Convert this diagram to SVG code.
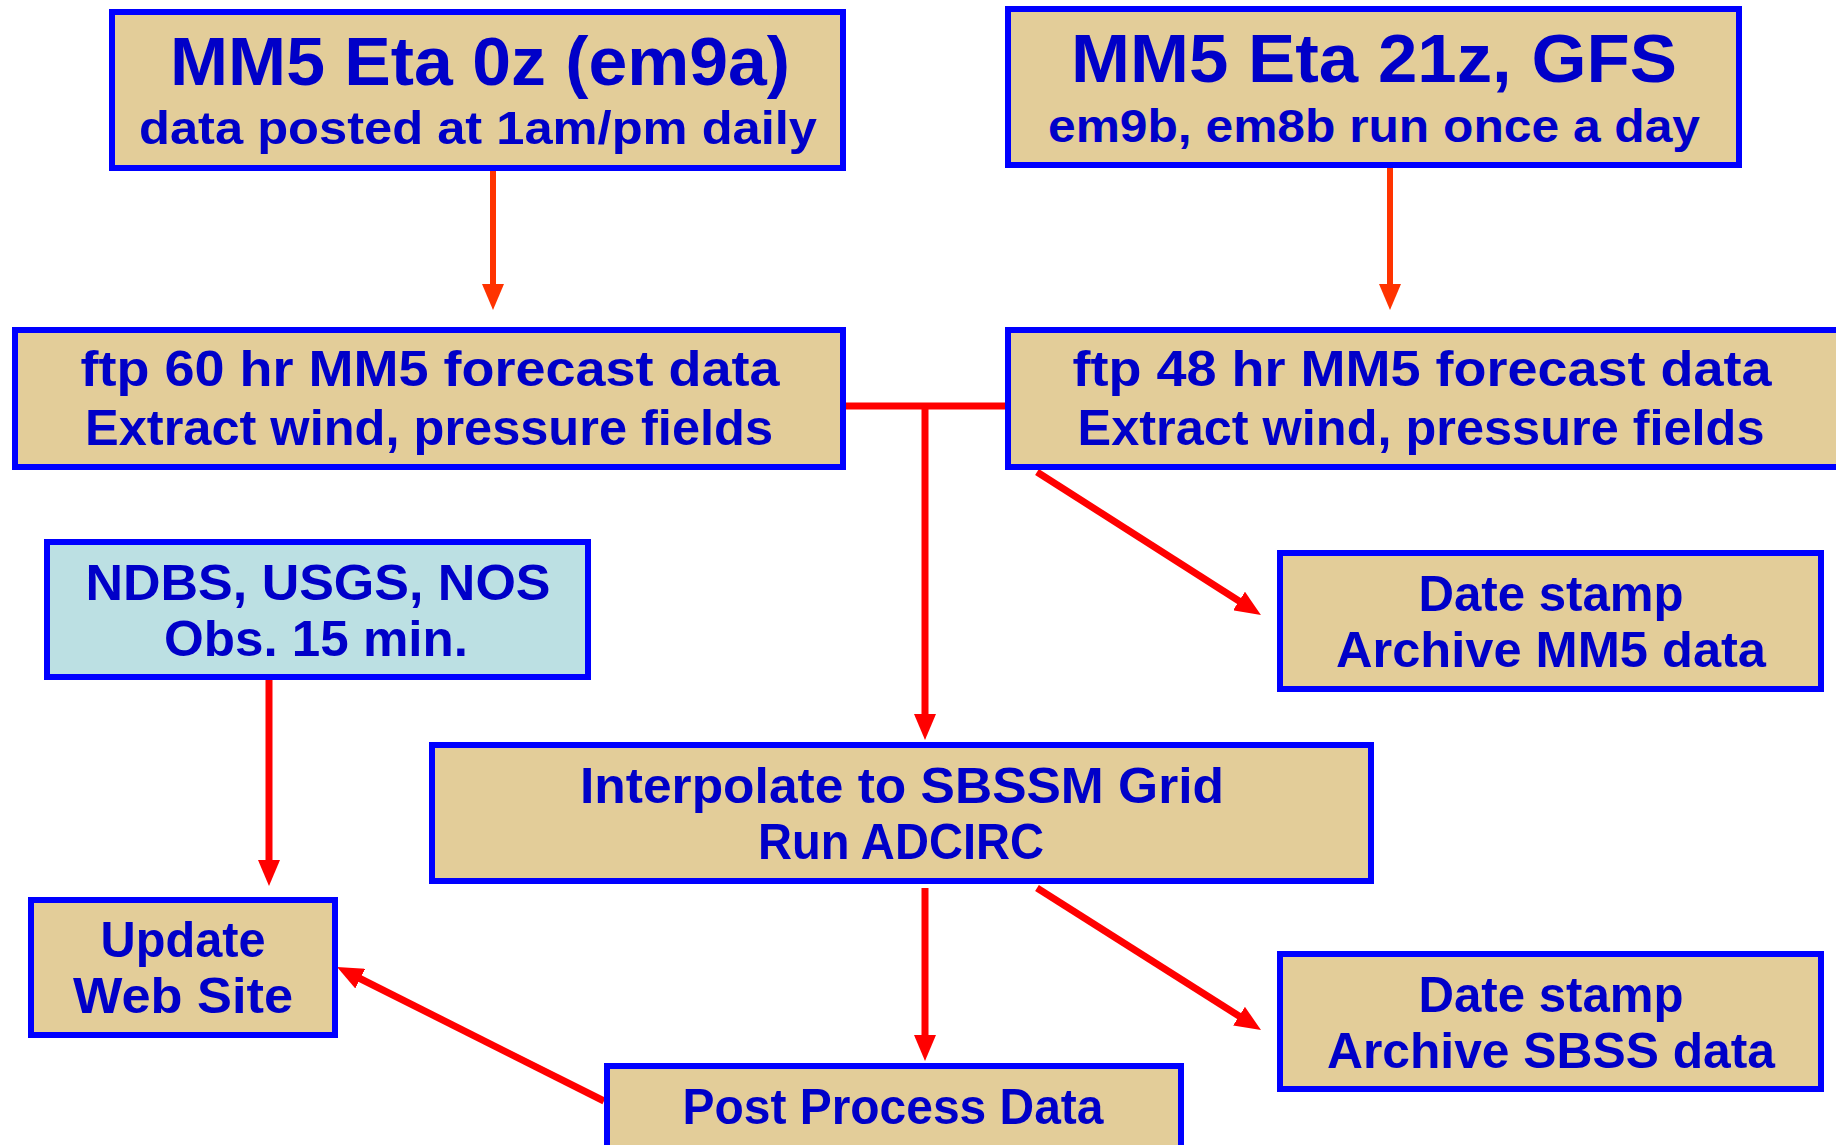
<svg xmlns="http://www.w3.org/2000/svg" width="1836" height="1145" viewBox="0 0 1836 1145">
<defs>
<style>
.box{fill:#E3CD99;stroke:#0000FF;stroke-width:6}
.obs{fill:#BCE0E3;stroke:#0000FF;stroke-width:6}
text{font-family:"Comic Sans MS","Liberation Sans",sans-serif;font-weight:bold;fill:#0000C8;text-anchor:middle}
.big{font-size:68px}
.mid{font-size:46px}
.t{font-size:50px}
.c1{stroke:#FF3300;stroke-width:6;fill:none}
.c2{stroke:#FF0000;stroke-width:7;fill:none}
</style>
<marker id="a1" markerUnits="userSpaceOnUse" markerWidth="26" markerHeight="22" refX="6" refY="11" orient="auto"><path d="M0,0 L26,11 L0,22 z" fill="#FF3300"/></marker>
<marker id="a2" markerUnits="userSpaceOnUse" markerWidth="26" markerHeight="22" refX="6" refY="11" orient="auto"><path d="M0,0 L26,11 L0,22 z" fill="#FF0000"/></marker>
</defs>
<rect width="1836" height="1145" fill="#FFFFFF"/>
<g id="connectors">
<line class="c1" x1="493" y1="170" x2="493" y2="290" marker-end="url(#a1)"/>
<line class="c1" x1="1390" y1="166" x2="1390" y2="290" marker-end="url(#a1)"/>
<line class="c2" x1="845" y1="406" x2="1005" y2="406"/>
<line class="c2" x1="925" y1="406" x2="925" y2="720" marker-end="url(#a2)"/>
<line class="c2" x1="1037" y1="472" x2="1244.1" y2="604.2" marker-end="url(#a2)"/>
<line class="c2" x1="269" y1="679" x2="269" y2="866" marker-end="url(#a2)"/>
<line class="c2" x1="925" y1="888" x2="925" y2="1041" marker-end="url(#a2)"/>
<line class="c2" x1="1037" y1="888" x2="1244.1" y2="1019.3" marker-end="url(#a2)"/>
<line class="c2" x1="604" y1="1101" x2="354.9" y2="976" marker-end="url(#a2)"/>
</g>
<g id="mm5-0z">
<rect class="box" x="112" y="12" width="731" height="156"/>
<text class="big" x="480" y="85" textLength="620" lengthAdjust="spacingAndGlyphs">MM5 Eta 0z (em9a)</text>
<text class="mid" x="478" y="144" textLength="678" lengthAdjust="spacingAndGlyphs">data posted at 1am/pm daily</text>
</g>
<g id="mm5-21z">
<rect class="box" x="1008" y="9" width="731" height="156"/>
<text class="big" x="1374" y="82" textLength="606" lengthAdjust="spacingAndGlyphs">MM5 Eta 21z, GFS</text>
<text class="mid" x="1374" y="142" textLength="652" lengthAdjust="spacingAndGlyphs">em9b, em8b run once a day</text>
</g>
<g id="ftp60">
<rect class="box" x="15" y="330" width="828" height="137"/>
<text class="t" x="430" y="386" textLength="699" lengthAdjust="spacingAndGlyphs">ftp 60 hr MM5 forecast data</text>
<text class="t" x="429" y="445" textLength="688" lengthAdjust="spacingAndGlyphs">Extract wind, pressure fields</text>
</g>
<g id="ftp48">
<rect class="box" x="1008" y="330" width="840" height="137"/>
<text class="t" x="1422" y="386" textLength="699" lengthAdjust="spacingAndGlyphs">ftp 48 hr MM5 forecast data</text>
<text class="t" x="1421" y="445" textLength="687" lengthAdjust="spacingAndGlyphs">Extract wind, pressure fields</text>
</g>
<g id="obs">
<rect class="obs" x="47" y="542" width="541" height="135"/>
<text class="t" x="318" y="600" textLength="465" lengthAdjust="spacingAndGlyphs">NDBS, USGS, NOS</text>
<text class="t" x="316" y="656" textLength="304" lengthAdjust="spacingAndGlyphs">Obs. 15 min.</text>
</g>
<g id="archive-mm5">
<rect class="box" x="1280" y="553" width="541" height="136"/>
<text class="t" x="1551" y="611" textLength="265" lengthAdjust="spacingAndGlyphs">Date stamp</text>
<text class="t" x="1551" y="667" textLength="430" lengthAdjust="spacingAndGlyphs">Archive MM5 data</text>
</g>
<g id="interpolate">
<rect class="box" x="432" y="745" width="939" height="136"/>
<text class="t" x="902" y="803" textLength="644" lengthAdjust="spacingAndGlyphs">Interpolate to SBSSM Grid</text>
<text class="t" x="901" y="859" textLength="286" lengthAdjust="spacingAndGlyphs">Run ADCIRC</text>
</g>
<g id="update">
<rect class="box" x="31" y="900" width="304" height="135"/>
<text class="t" x="183" y="957" textLength="165" lengthAdjust="spacingAndGlyphs">Update</text>
<text class="t" x="183" y="1013" textLength="220" lengthAdjust="spacingAndGlyphs">Web Site</text>
</g>
<g id="archive-sbss">
<rect class="box" x="1280" y="954" width="541" height="135"/>
<text class="t" x="1551" y="1012" textLength="265" lengthAdjust="spacingAndGlyphs">Date stamp</text>
<text class="t" x="1551" y="1068" textLength="448" lengthAdjust="spacingAndGlyphs">Archive SBSS data</text>
</g>
<g id="post">
<rect class="box" x="607" y="1066" width="574" height="90"/>
<text class="t" x="893" y="1124" textLength="421" lengthAdjust="spacingAndGlyphs">Post Process Data</text>
</g>
</svg>
